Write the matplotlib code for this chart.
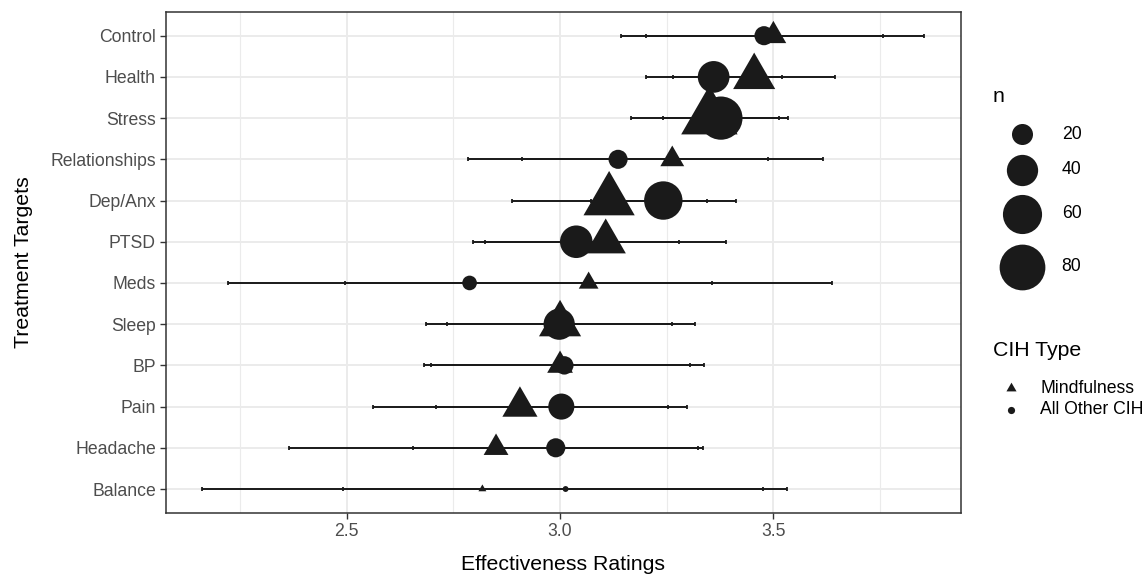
import numpy as np
import matplotlib
matplotlib.use("Agg")
import matplotlib.pyplot as plt
from matplotlib.path import Path
from matplotlib.ticker import MultipleLocator

plt.rcParams["font.family"] = ["Liberation Sans", "DejaVu Sans"]

# data
targets = ["Control", "Health", "Stress", "Relationships", "Dep/Anx", "PTSD",
           "Meds", "Sleep", "BP", "Pain", "Headache", "Balance"]

mind_mean = [3.500, 3.455, 3.350, 3.263, 3.115, 3.107, 3.067, 3.000, 3.000, 2.906, 2.850, 2.818]
mind_lo = [3.144, 3.264, 3.166, 2.910, 2.887, 2.825, 2.496, 2.685, 2.697, 2.561, 2.365, 2.160]
mind_hi = [3.854, 3.645, 3.535, 3.616, 3.344, 3.388, 3.638, 3.316, 3.304, 3.252, 3.336, 3.476]
mind_n = [17, 40, 68, 15, 57, 37, 11, 40, 17, 29, 16, 3]

other_mean = [3.478, 3.360, 3.377, 3.136, 3.242, 3.038, 2.788, 2.998, 3.010, 3.003, 2.990, 3.013]
other_lo = [3.201, 3.201, 3.241, 2.785, 3.072, 2.797, 2.2225, 2.734, 2.681, 2.709, 2.655, 2.492]
other_hi = [3.758, 3.520, 3.513, 3.488, 3.412, 3.279, 3.355, 3.262, 3.337, 3.297, 3.324, 3.533]
other_n = [17, 41, 72, 17, 58, 43, 11, 40, 16, 29, 17, 3]

n_breaks = [20, 40, 60, 80]
cih_types = ["Mindfulness", "All Other CIH"]

W, H, DPI = 1148, 575, 100
PT = 72 / DPI  # points per pixel

# R-style filled triangle (same area as the circle of the same size)
TRI = Path([(0, 1.5551), (1.3468, -0.7776), (-1.3468, -0.7776), (0, 1.5551)],
           [Path.MOVETO, Path.LINETO, Path.LINETO, Path.CLOSEPOLY])


def diam_px(n):
    return np.maximum(5.53 * np.sqrt(np.asarray(n, float)) - 3.7, 4.0)


def circ_s(n):
    return (diam_px(n) * PT) ** 2


def tri_s(n):
    return (diam_px(n) * PT * 1.5551) ** 2


INK = "#1a1a1a"

fig = plt.figure(figsize=(W / DPI, H / DPI), dpi=DPI)
ax = fig.add_axes([166 / W, 1 - 512.7 / H, (960.7 - 166) / W, (512.7 - 12) / H])

# error bars
for mean, lo, hi in [(mind_mean, mind_lo, mind_hi), (other_mean, other_lo, other_hi)]:
    mean = np.array(mean)
    ax.errorbar(mean, targets, xerr=[mean - np.array(lo), np.array(hi) - mean],
                fmt="none", ecolor=INK, elinewidth=1.4, capsize=1.5, capthick=1.3,
                zorder=2)

ax.scatter(other_mean, targets, s=circ_s(other_n), marker="o", color=INK,
           linewidths=0, zorder=3)
ax.scatter(mind_mean, targets, s=tri_s(mind_n), marker=TRI, color=INK,
           linewidths=0, zorder=3)

ax.set_xlim(2.0765, 3.939)
ax.set_ylim(len(targets) - 1 + 0.575, -0.575)
ax.xaxis.set_major_locator(MultipleLocator(0.5))
ax.xaxis.set_minor_locator(MultipleLocator(0.25))
ax.set_xticks([2.5, 3.0, 3.5])
ax.set_xticklabels(["2.5", "3.0", "3.5"])

ax.grid(True, which="major", color="#EBEBEB", lw=1.4, zorder=0)
ax.grid(True, which="minor", axis="x", color="#EBEBEB", lw=0.8, zorder=0)
ax.set_axisbelow(True)
for sp in ax.spines.values():
    sp.set_color("#333333")
    sp.set_linewidth(1.1)
ax.tick_params(which="major", length=4.2, width=1.0, color="#333333",
               labelcolor="#4D4D4D", labelsize=12.7, pad=3)
ax.tick_params(which="minor", length=0)

ax.set_xlabel("Effectiveness Ratings", fontsize=15.3, color="black", labelpad=11)
ax.set_ylabel("Treatment Targets", fontsize=15.3, color="black", labelpad=12.5)

# legends, drawn in pixel space
lax = fig.add_axes([0, 0, 1, 1])
lax.set_xlim(0, W)
lax.set_ylim(H, 0)
lax.axis("off")

lax.text(993, 97, "n", fontsize=15.3, va="center", ha="left")
for nb, yy in zip(n_breaks, [134.3, 170, 214, 266.7]):
    lax.scatter([1022.3], [yy], s=circ_s(nb), marker="o", color=INK, linewidths=0)
    lax.text(1061.7, yy, str(nb), fontsize=12.7, va="center", ha="left")

lax.text(993, 351, "CIH Type", fontsize=15.3, va="center", ha="left")
key_s = [(7.5 * PT * 1.5551) ** 2, (7.2 * PT) ** 2]
for lab, mk, ks, yy in zip(cih_types, [TRI, "o"], key_s, [388.3, 409.5]):
    lax.scatter([1010.7], [yy], s=ks, marker=mk, color=INK, linewidths=0)
    lax.text(1040, yy, lab, fontsize=12.7, va="center", ha="left")

fig.savefig("out.png", dpi=DPI)
